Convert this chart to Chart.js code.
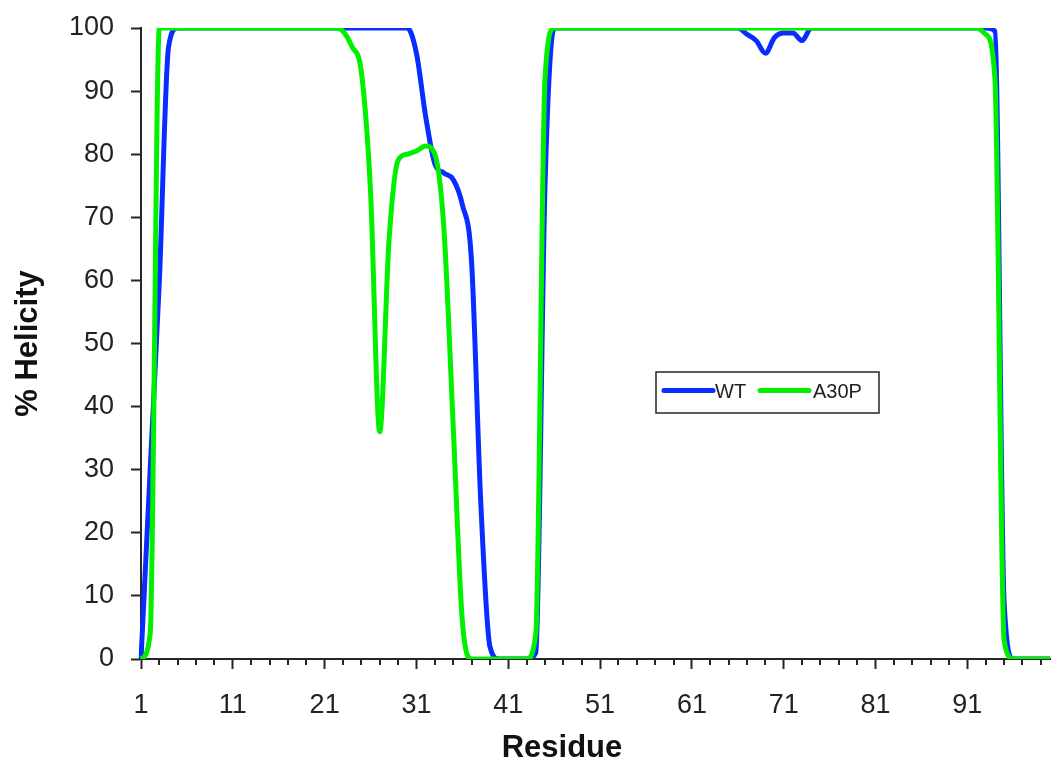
<!DOCTYPE html>
<html>
<head>
<meta charset="utf-8">
<script src="https://cdn.jsdelivr.net/npm/chart.js@4.4.1/dist/chart.umd.min.js"></script>
<style>
    html, body { margin: 0; padding: 0; background: #ffffff; overflow: hidden; }
    #wrap { width: 1051px; height: 767px; }
</style>
</head>
<body>
<div id="wrap"><canvas id="helicityChart"></canvas></div>
<script>
// Residue numbers (category axis)
var residues = [
    1, 2, 3, 4, 5, 6, 7, 8, 9, 10,
    11, 12, 13, 14, 15, 16, 17, 18, 19, 20,
    21, 22, 23, 24, 25, 26, 27, 28, 29, 30,
    31, 32, 33, 34, 35, 36, 37, 38, 39, 40,
    41, 42, 43, 44, 45, 46, 47, 48, 49, 50,
    51, 52, 53, 54, 55, 56, 57, 58, 59, 60,
    61, 62, 63, 64, 65, 66, 67, 68, 69, 70,
    71, 72, 73, 74, 75, 76, 77, 78, 79, 80,
    81, 82, 83, 84, 85, 86, 87, 88, 89, 90,
    91, 92, 93, 94, 95, 96, 97, 98, 99, 100
];

// % helicity, wild type
var wtHelicity = [
    0, 30, 60, 97, 100, 100, 100, 100, 100, 100,
    100, 100, 100, 100, 100, 100, 100, 100, 100, 100,
    100, 100, 100, 100, 100, 100, 100, 100, 100, 100,
    96, 86, 78.5, 77, 76, 72, 63, 25, 2, 0,
    0, 0, 0, 1, 75, 100, 100, 100, 100, 100,
    100, 100, 100, 100, 100, 100, 100, 100, 100, 100,
    100, 100, 100, 100, 100, 100, 99, 98, 96, 98.5,
    99.2, 99.2, 98, 100, 100, 100, 100, 100, 100, 100,
    100, 100, 100, 100, 100, 100, 100, 100, 100, 100,
    100, 100, 100, 99.5, 9, 0, 0, 0, 0, 0
];

// % helicity, A30P mutant
var a30pHelicity = [
    0, 4, 100, 100, 100, 100, 100, 100, 100, 100,
    100, 100, 100, 100, 100, 100, 100, 100, 100, 100,
    100, 100, 99.5, 97, 93, 74, 36, 66, 79, 80,
    80.5, 81.3, 80, 68, 37, 6, 0, 0, 0, 0,
    0, 0, 0, 4, 92, 100, 100, 100, 100, 100,
    100, 100, 100, 100, 100, 100, 100, 100, 100, 100,
    100, 100, 100, 100, 100, 100, 100, 100, 100, 100,
    100, 100, 100, 100, 100, 100, 100, 100, 100, 100,
    100, 100, 100, 100, 100, 100, 100, 100, 100, 100,
    100, 100, 99, 92, 3, 0, 0, 0, 0, 0
];

// labelled residues on the x axis
var xTickLabels = ['1', '11', '21', '31', '41', '51', '61', '71', '81', '91'];

var colors = {
    wt: '#0a2dff',
    a30p: '#00f000',
    axis: '#262626',
    text: '#222222'
};
var fontFamily = "'Liberation Sans', Arial, sans-serif";

// short tick marks at every second residue (long ones come from the axis itself)
var minorTicks = {
    id: 'minorTicks',
    afterDraw: function (chart) {
        var xScale = chart.scales.x;
        var bottom = chart.chartArea.bottom;
        var ctx = chart.ctx;
        ctx.save();
        ctx.strokeStyle = colors.axis;
        ctx.lineWidth = 2;
        residues.forEach(function (r, i) {
            if (i % 2 !== 0 || xTickLabels.indexOf(String(r)) >= 0) return;
            var px = Math.round(xScale.getPixelForValue(i));
            ctx.beginPath();
            ctx.moveTo(px, bottom);
            ctx.lineTo(px, bottom + 6);
            ctx.stroke();
        });
        ctx.restore();
    }
};

// x axis title, sits a bit left of the plot centre like the original
var xTitle = {
    id: 'xTitle',
    afterDraw: function (chart) {
        var ctx = chart.ctx;
        ctx.save();
        ctx.fillStyle = '#111111';
        ctx.font = 'bold 31px ' + fontFamily;
        ctx.textAlign = 'center';
        ctx.textBaseline = 'middle';
        ctx.fillText('Residue', 562, 748);
        ctx.restore();
    }
};

// boxed legend sitting inside the plot
var boxLegend = {
    id: 'boxLegend',
    afterDraw: function (chart) {
        var ctx = chart.ctx;
        var left = 656, top = 372, w = 223, h = 41;
        var midY = top + h / 2 - 2;
        ctx.save();
        ctx.fillStyle = '#ffffff';
        ctx.fillRect(left, top, w, h);
        ctx.strokeStyle = colors.axis;
        ctx.lineWidth = 1.5;
        ctx.strokeRect(left, top, w, h);

        var items = [
            { x: 662, textX: 715, ds: chart.data.datasets[0] },
            { x: 758, textX: 813, ds: chart.data.datasets[1] }
        ];
        items.forEach(function (it) {
            ctx.strokeStyle = it.ds.borderColor;
            ctx.lineWidth = 5;
            ctx.lineCap = 'round';
            ctx.beginPath();
            ctx.moveTo(it.x + 2, midY);
            ctx.lineTo(it.x + 51, midY);
            ctx.stroke();
            ctx.fillStyle = colors.text;
            ctx.font = '20px ' + fontFamily;
            ctx.textBaseline = 'middle';
            ctx.textAlign = 'left';
            ctx.fillText(it.ds.label, it.textX, midY + 2);
        });
        ctx.restore();
    }
};

var ctx = document.getElementById('helicityChart');
new Chart(ctx, {
    type: 'line',
    data: {
        labels: residues,
        datasets: [{
            label: 'WT',
            data: wtHelicity,
            borderColor: colors.wt,
            backgroundColor: colors.wt,
            borderWidth: 5,
            pointRadius: 0,
            tension: 0.4,
            cubicInterpolationMode: 'monotone',
            fill: false,
            order: 2
        }, {
            label: 'A30P',
            data: a30pHelicity,
            borderColor: colors.a30p,
            backgroundColor: colors.a30p,
            borderWidth: 5,
            pointRadius: 0,
            tension: 0.4,
            cubicInterpolationMode: 'monotone',
            fill: false,
            order: 1
        }]
    },
    options: {
        responsive: true,
        maintainAspectRatio: false,
        animation: false,
        layout: {
            padding: { top: 28, right: 1, bottom: 0, left: 0 }
        },
        scales: {
            x: {
                type: 'category',
                offset: false,
                afterFit: function (scale) { scale.height = 108; },
                border: { display: true, color: colors.axis, width: 2 },
                grid: {
                    display: true,
                    drawOnChartArea: false,
                    drawTicks: true,
                    tickLength: 10,
                    tickColor: colors.axis,
                    tickWidth: 2
                },
                ticks: {
                    autoSkip: false,
                    maxRotation: 0,
                    minRotation: 0,
                    padding: 20,
                    color: colors.text,
                    font: { family: fontFamily, size: 27 },
                    callback: function (value, index) {
                        var lab = String(residues[index]);
                        return xTickLabels.indexOf(lab) >= 0 ? lab : null;
                    }
                },
                title: { display: false }
            },
            y: {
                min: 0,
                max: 100,
                afterFit: function (scale) {
                    scale.width = 141;
                    // let the layout padding alone decide where the plot top sits
                    scale.paddingTop = 0;
                    scale.paddingBottom = 0;
                },
                border: { display: true, color: colors.axis, width: 2 },
                grid: {
                    display: true,
                    drawOnChartArea: false,
                    drawTicks: true,
                    tickLength: 10,
                    tickColor: colors.axis,
                    tickWidth: 2
                },
                ticks: {
                    stepSize: 10,
                    padding: 17,
                    color: colors.text,
                    font: { family: fontFamily, size: 27 }
                },
                title: {
                    display: true,
                    text: '% Helicity',
                    color: '#111111',
                    font: { family: fontFamily, size: 31, weight: 'bold' },
                    padding: { top: 10, bottom: 0 }
                }
            }
        },
        plugins: {
            legend: { display: false },
            tooltip: { enabled: false }
        }
    },
    plugins: [minorTicks, xTitle, boxLegend]
});
</script>
</body>
</html>
